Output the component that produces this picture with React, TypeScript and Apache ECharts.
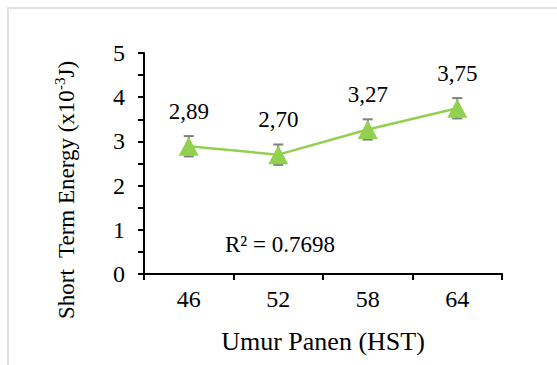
import React, { useEffect, useRef } from "react";
import * as echarts from "echarts";

const categories = ["46", "52", "58", "64"];
const energyValues = [2.89, 2.7, 3.27, 3.75];
const errorValues = [0.23, 0.23, 0.23, 0.23];
const yTicks = [0, 1, 2, 3, 4, 5];
const rSquaredText = "R² = 0.7698";
const xTitle = "Umur Panen (HST)";
const yTitleParts = ["Short  Term Energy (x10", "-3", "J)"];

const FONT = "Liberation Serif";

export default function App() {
  const ref = useRef<HTMLDivElement>(null);
  useEffect(() => {
    if (!ref.current) return;
    const chart = echarts.init(ref.current, null, { renderer: "svg" });
    const errData = energyValues.map((v, i) => [i, v - errorValues[i], v + errorValues[i]]);
    chart.setOption({
      animation: false,
      backgroundColor: "#ffffff",
      textStyle: { fontFamily: FONT },
      grid: { left: 144, right: 55, top: 53, bottom: 91 },
      xAxis: {
        type: "category",
        data: categories,
        boundaryGap: true,
        name: xTitle,
        nameLocation: "middle",
        nameGap: 54,
        nameTextStyle: { fontFamily: FONT, fontSize: 26, color: "#000" },
        axisLine: { lineStyle: { color: "#000", width: 2 } },
        axisTick: { show: true, alignWithLabel: false, length: 6, lineStyle: { color: "#000", width: 2 } },
        axisLabel: { fontFamily: FONT, fontSize: 24, color: "#000", margin: 13 },
        splitLine: { show: false },
      },
      yAxis: {
        type: "value",
        min: yTicks[0],
        max: yTicks[yTicks.length - 1],
        interval: 1,
        axisLine: { show: true, lineStyle: { color: "#000", width: 2 } },
        axisTick: { show: true, length: 6, lineStyle: { color: "#000", width: 2 } },
        minorTick: { show: true, splitNumber: 2, length: 6, lineStyle: { color: "#000", width: 2 } },
        axisLabel: { fontFamily: FONT, fontSize: 24, color: "#000", margin: 19 },
        splitLine: { show: false },
      },
      series: [
        {
          type: "custom",
          data: errData,
          z: 1,
          renderItem: (params: any, api: any) => {
            const x = api.value(0);
            const lo = api.coord([x, api.value(1)]);
            const hi = api.coord([x, api.value(2)]);
            const w = 5;
            const style = { stroke: "#7f7f7f", lineWidth: 2 };
            return {
              type: "group",
              children: [
                { type: "line", shape: { x1: hi[0], y1: hi[1], x2: lo[0], y2: lo[1] }, style },
                { type: "line", shape: { x1: hi[0] - w, y1: hi[1], x2: hi[0] + w, y2: hi[1] }, style },
                { type: "line", shape: { x1: lo[0] - w, y1: lo[1], x2: lo[0] + w, y2: lo[1] }, style },
              ],
            };
          },
        },
        {
          type: "line",
          data: energyValues,
          z: 3,
          symbol: "triangle",
          symbolSize: [20, 19],
          lineStyle: { color: "#92D050", width: 2.5 },
          itemStyle: { color: "#92D050" },
          label: {
            show: true,
            position: "top",
            distance: 14,
            fontFamily: FONT,
            fontSize: 23,
            color: "#000",
            formatter: (p: any) => Number(p.value).toFixed(2).replace(".", ","),
          },
        },
      ],
      graphic: [
        {
          type: "rect",
          shape: { x: 8, y: 8, width: 620, height: 420 },
          style: { fill: "none", stroke: "#d9d9d9", lineWidth: 1.5 },
          silent: true,
        },
        {
          type: "text",
          left: 225,
          top: 233,
          style: { text: rSquaredText, fontFamily: FONT, fontSize: 23, fill: "#000" },
        },
        {
          type: "text",
          x: 65,
          y: 190,
          rotation: Math.PI / 2,
          style: {
            text: `{n|${yTitleParts[0]}}{s|${yTitleParts[1]}}{n|${yTitleParts[2]}}`,
            align: "center",
            verticalAlign: "middle",
            fill: "#000",
            rich: {
              n: { fontFamily: FONT, fontSize: 23, lineHeight: 26, fill: "#000", verticalAlign: "bottom" },
              s: { fontFamily: FONT, fontSize: 15, lineHeight: 15, fill: "#000", verticalAlign: "top" },
            },
          },
        },
      ],
    });
    return () => chart.dispose();
  }, []);
  return (
    <div
      ref={ref}
      style={{ position: "fixed", left: 0, top: 0, width: 557, height: 365 }}
    />
  );
}
